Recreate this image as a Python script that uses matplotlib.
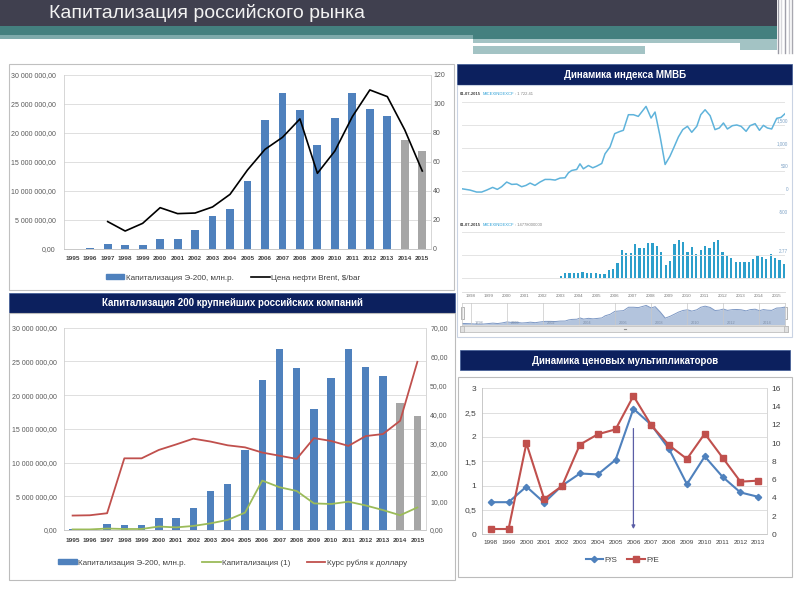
import numpy as np
import matplotlib
matplotlib.use("Agg")
import matplotlib.pyplot as plt
from matplotlib.patches import Rectangle, Patch
from matplotlib.lines import Line2D
from matplotlib.ticker import FuncFormatter
from matplotlib import font_manager

# ---------------- data ----------------
years = [1995, 1996, 1997, 1998, 1999, 2000, 2001, 2002, 2003, 2004, 2005,
         2006, 2007, 2008, 2009, 2010, 2011, 2012, 2013, 2014, 2015]
cap_e200 = [80000, 200000, 930000, 700000, 700000, 1750000, 1800000, 3280000,
            5750000, 6850000, 11800000, 22200000, 26900000, 23950000, 17900000,
            22600000, 26900000, 24150000, 22900000, 18800000, 16850000]
forecast_from = 2014
brent = [np.nan, np.nan, 18.9, 12.4, 17.7, 28.5, 24.4, 24.8, 29.0, 37.7, 54.5,
         68.7, 77.0, 89.7, 52.2, 67.6, 91.3, 109.7, 105.1, 82.1, 53.8]
cap_usd = [0.2, 0.2, 0.5, 0.35, 0.35, 1.2, 0.9, 1.4, 2.3, 3.5, 6.0, 17.1, 14.8,
           13.5, 9.2, 9.0, 9.8, 8.5, 6.9, 5.1, 7.8]
rub_usd = [5.0, 5.1, 5.8, 24.8, 24.8, 27.7, 29.6, 31.6, 30.6, 29.3, 28.6, 26.8,
           25.7, 24.6, 31.8, 30.8, 29.1, 32.5, 33.2, 37.8, 58.2]

idx_t = [1997.50, 1997.96, 1998.33, 1998.61, 1998.89, 1999.22, 1999.48, 1999.72,
         2000.00, 2000.28, 2000.56, 2000.83, 2001.07, 2001.30, 2001.57, 2001.85,
         2002.13, 2002.41, 2002.69, 2002.96, 2003.24, 2003.43, 2003.61, 2003.89,
         2004.07, 2004.26, 2004.54, 2004.78, 2005.00, 2005.28, 2005.46, 2005.74,
         2006.00, 2006.26, 2006.48, 2006.76, 2007.04, 2007.31, 2007.74, 2008.02,
         2008.24, 2008.52, 2008.80, 2009.07, 2009.30, 2009.54, 2009.78, 2010.04,
         2010.28, 2010.56, 2010.78, 2011.02, 2011.30, 2011.57, 2011.81, 2012.04,
         2012.26, 2012.54, 2012.78, 2013.02, 2013.30, 2013.52, 2013.80, 2014.04,
         2014.26, 2014.48, 2014.72, 2015.00, 2015.24, 2015.46]
idx_v = [108, 79, 36, 36, 79, 137, 94, 152, 253, 202, 209, 152, 180, 231, 180, 253,
         310, 310, 296, 339, 346, 455, 505, 527, 649, 541, 613, 563, 599, 657, 866,
         1017, 1306, 1349, 1378, 1717, 1717, 1681, 1898, 1645, 1775, 1248, 635, 815,
         1017, 1234, 1393, 1465, 1335, 1465, 1717, 1825, 1696, 1393, 1429, 1537,
         1407, 1479, 1494, 1465, 1356, 1479, 1522, 1378, 1486, 1429, 1407, 1638,
         1659, 1739]
idx_grid = [2000, 1500, 1000, 500, 0, -500]
idx_grid_labels = ["", "1,500", "1,000", "500", "0", "-500"]
idx_caption = ["01-07-2015", "MICEXINDEXCF", ": 1 722.41"]
vol_caption = ["01-07-2015", "MICEXINDEXCF", ": 14778000000"]

vol_start = 2003.0
vol = [0.28, 0.59, 0.59, 0.59, 0.67, 0.75, 0.59, 0.67, 0.59, 0.47, 0.47, 0.99,
       1.07, 1.78, 3.36, 2.97, 2.97, 4.04, 3.56, 3.56, 4.15, 4.15, 3.84, 3.17,
       1.58, 2.06, 4.04, 4.55, 4.35, 3.17, 3.68, 2.85, 3.36, 3.84, 3.56, 4.35,
       4.55, 3.17, 2.65, 2.37, 1.90, 1.90, 1.90, 1.90, 2.30, 2.77, 2.57, 2.30,
       2.85, 2.45, 2.18, 1.66]
vol_label = 2.77

mult_years = [1998, 1999, 2000, 2001, 2002, 2003, 2004, 2005, 2006, 2007, 2008,
              2009, 2010, 2011, 2012, 2013]
ps = [0.66, 0.66, 0.98, 0.65, 1.00, 1.25, 1.23, 1.53, 2.58, 2.25, 1.75, 1.03,
      1.60, 1.18, 0.86, 0.77]
pe = [0.58, 0.58, 9.97, 3.87, 5.30, 9.83, 10.96, 11.50, 15.16, 11.95, 9.75, 8.26,
      11.03, 8.40, 5.77, 5.88]
arrow_year = 2006
arrow_top, arrow_bottom = 2.23, 0.05

# ---------------- setup ----------------
names = {f.name for f in font_manager.fontManager.ttflist}
NARROW = "Liberation Sans Narrow" if "Liberation Sans Narrow" in names else "Liberation Sans"
plt.rcParams["font.family"] = ["Liberation Sans", "DejaVu Sans"]
FN = [NARROW, "Liberation Sans", "DejaVu Sans"]

W, H = 800, 600
fig = plt.figure(figsize=(8, 6), dpi=100)
bg = fig.add_axes([0, 0, 1, 1])
bg.set_xlim(0, W)
bg.set_ylim(H, 0)
bg.axis("off")
renderer = fig.canvas.get_renderer()

NAVY = "#0c205e"
BLUE = "#4f81bd"
GRAY = "#a6a6a6"
RED = "#c0504d"
GREEN = "#9bbb59"


def rect(x0, y0, x1, y1, **kw):
    bg.add_patch(Rectangle((x0, y0), x1 - x0, y1 - y0, **kw))


def pax(x0, y0, x1, y1):
    a = fig.add_axes([x0 / W, 1 - y1 / H, (x1 - x0) / W, (y1 - y0) / H])
    a.set_facecolor("none")
    return a


def seq_text(x0, y, parts, colors, weights, size=3.0):
    xc = x0
    for s, c, w in zip(parts, colors, weights):
        t = bg.text(xc, y, s, color=c, fontweight=w, fontsize=size,
                    va="center", ha="left", fontfamily=FN)
        xc += t.get_window_extent(renderer).width + 1.2


# slide header
rect(0, 0, 777, 26, fc="#40404f", lw=0)
rect(0, 26, 777, 35, fc="#44807f", lw=0)
rect(0, 35, 473, 39, fc="#7eaaab", lw=0)
rect(473, 35, 777, 39, fc="#44807f", lw=0)
rect(473, 39, 777, 43, fc="#a3c3c4", lw=0)
rect(473, 43, 740, 46, fc="white", lw=0)
rect(473, 46, 645, 54, fc="#a3c3c4", lw=0)
rect(740, 43, 777, 50, fc="#a3c3c4", lw=0)
for xv, c in [(778, "#9a9aa4"), (781, "#d8d8dc"), (785, "#a0a0aa"),
              (789, "#c8c8ce"), (792, "#a8a8b0")]:
    bg.plot([xv, xv], [0, 53], color=c, lw=1.0)
bg.text(49, 13, "Капитализация российского рынка", color="#f2f2f2",
        fontsize=14, va="center", ha="left")

# panel frames and headers
rect(9, 64, 454, 290, fc="white", ec="#c0c0c0", lw=0.8)
rect(9, 293, 455, 313, fc=NAVY, ec="#3b5894", lw=0.5)
rect(9, 313, 455, 580, fc="white", ec="#bcbcbc", lw=0.8)
rect(457, 64, 792, 85, fc=NAVY, ec="#3b5894", lw=0.5)
rect(457, 85, 792, 337, fc="white", ec="#c9d3e3", lw=0.8)
rect(460, 350, 790, 370, fc=NAVY, ec="#3b5894", lw=0.5)
rect(458, 377, 792, 577, fc="white", ec="#bcbcbc", lw=0.8)
hdr = dict(color="white", fontsize=7, fontweight="bold", ha="center", va="center")
bg.text(625, 75, "Динамика индекса ММВБ", **hdr)
bg.text(232, 303.5, "Капитализация 200 крупнейших российских компаний", **hdr)
bg.text(625, 360.5, "Динамика ценовых мультипликаторов", **hdr)


def big_fmt(v, pos):
    return f"{v:,.2f}".replace(",", " ").replace(".", ",")


x = np.arange(len(years))
bar_colors = [GRAY if y >= forecast_from else BLUE for y in years]


def style_cat_axes(ax, pad_left, pad_bottom):
    ax.set_xlim(-0.5, len(years) - 0.5)
    ax.set_ylim(0, 30e6)
    ax.set_yticks(np.arange(0, 30e6 + 1, 5e6))
    ax.yaxis.set_major_formatter(FuncFormatter(big_fmt))
    ax.set_xticks(x)
    ax.set_xticklabels([str(y) for y in years], fontfamily=FN, fontsize=4.6,
                       fontweight="bold", color="#404040")
    for lab in ax.get_yticklabels():
        lab.set_fontfamily(FN)
    ax.tick_params(axis="y", length=0, labelsize=5, colors="#595959", pad=pad_left)
    ax.tick_params(axis="x", length=0, pad=pad_bottom)
    ax.grid(axis="y", color="#d9d9d9", lw=0.6)
    ax.set_axisbelow(True)
    for s in ["top", "right"]:
        ax.spines[s].set_visible(False)
    ax.spines["left"].set_color("#d0d0d0")
    ax.spines["bottom"].set_color("#bfbfbf")
    ax.spines["left"].set_linewidth(0.6)
    ax.spines["bottom"].set_linewidth(0.6)


# ---------------- panel 1 ----------------
ax1 = pax(64, 75, 431, 249)
ax1.bar(x, cap_e200, width=0.45, color=bar_colors)
style_cat_axes(ax1, 6, 5)
ax1r = ax1.twinx()
ax1r.plot(x, brent, color="black", lw=1.2)
ax1r.set_ylim(0, 120)
ax1r.set_yticks(np.arange(0, 121, 20))
ax1r.tick_params(length=0, labelsize=5, colors="#595959", pad=1.5)
for lab in ax1r.get_yticklabels():
    lab.set_fontfamily(FN)
for s in ["top", "left", "bottom"]:
    ax1r.spines[s].set_visible(False)
ax1r.spines["right"].set_color("#d0d0d0")
ax1r.spines["right"].set_linewidth(0.6)

leg_kw = dict(loc="center", frameon=False, handletextpad=0.2,
              prop={"family": FN, "size": 5.8}, labelcolor="#404040",
              handlelength=2.3, handleheight=0.6)
fig.legend([Patch(color=BLUE), Line2D([], [], color="black", lw=1.2)],
           ["Капитализация Э-200, млн.р.", "Цена нефти Brent, $/bar"],
           bbox_to_anchor=(233 / W, 1 - 278 / H), ncol=2, columnspacing=2.2,
           **leg_kw)

# ---------------- panel 3 ----------------
ax3 = pax(64, 327.7, 426, 530)
ax3.bar(x, cap_e200, width=0.43, color=bar_colors)
style_cat_axes(ax3, 5, 5.5)
ax3r = ax3.twinx()
ax3r.plot(x, cap_usd, color=GREEN, lw=1.3)
ax3r.plot(x, rub_usd, color=RED, lw=1.3)
ax3r.set_ylim(0, 70)
ax3r.set_yticks(np.arange(0, 71, 10))
ax3r.yaxis.set_major_formatter(FuncFormatter(lambda v, p: f"{v:.2f}".replace(".", ",")))
ax3r.tick_params(length=0, labelsize=5, colors="#595959", pad=3)
for lab in ax3r.get_yticklabels():
    lab.set_fontfamily(FN)
for s in ["top", "left", "bottom"]:
    ax3r.spines[s].set_visible(False)
ax3r.spines["right"].set_color("#d0d0d0")
ax3r.spines["right"].set_linewidth(0.6)
fig.legend([Patch(color=BLUE), Line2D([], [], color=GREEN, lw=1.3),
            Line2D([], [], color=RED, lw=1.3)],
           ["Капитализация Э-200, млн.р.", "Капитализация (1)", "Курс рубля к доллару"],
           bbox_to_anchor=(232.5 / W, 1 - 563 / H), ncol=3, columnspacing=2.0,
           **leg_kw)

# ---------------- panel 2 ----------------
XL = (1997.5, 2015.46)
cap_colors = ["#404040", "#2a9fd6", "#808080"]
cap_weights = ["bold", "normal", "normal"]
seq_text(460, 94.3, idx_caption, cap_colors, cap_weights)
seq_text(460, 225, vol_caption, cap_colors, cap_weights)

axL = pax(461.7, 101.7, 785, 216.7)
for g, lab in zip(idx_grid, idx_grid_labels):
    axL.axhline(g, color="#e4e4e4", lw=0.7)
    if lab:
        axL.text(1.009, g + 30, lab, transform=axL.get_yaxis_transform(),
                 ha="right", va="bottom", fontsize=3.3, color="#7fa3c6")
axL.plot(idx_t, idx_v, color="#5fb3db", lw=1.1)
axL.set_xlim(*XL)
axL.set_ylim(-500, 2000)
axL.axis("off")

axV = pax(461.7, 231.7, 785, 291.7)
vx = vol_start + np.arange(len(vol)) * 0.243
for g in [vol_label * 2, vol_label, 0]:
    axV.axhline(g, color="#e4e4e4", lw=0.7)
axV.bar(vx, vol, width=0.13, color="#2d9fcb", bottom=0)
axV.text(1.009, vol_label + 0.15, f"{vol_label:.2f}", transform=axV.get_yaxis_transform(),
         ha="right", va="bottom", fontsize=3.3, color="#7fa3c6")
axV.set_xlim(*XL)
axV.set_ylim(-vol_label * 0.57, vol_label * 2)
axV.set_xticks(np.arange(1998, 2016))
axV.set_xticklabels([str(y) for y in range(1998, 2016)], fontsize=3.2, color="#777777")
axV.tick_params(axis="x", length=0, pad=1.8)
axV.set_yticks([])
for s in ["top", "left", "right"]:
    axV.spines[s].set_visible(False)
axV.spines["bottom"].set_color("#e0e0e0")
axV.spines["bottom"].set_linewidth(0.7)

axN = pax(462, 303, 785, 324.5)
axN.fill_between(idx_t, idx_v, 0, color="#b3c4dd", lw=0)
axN.plot(idx_t, idx_v, color="#7d98c4", lw=0.7)
for yv in range(1998, 2015, 2):
    axN.axvline(yv, color="#c8c8c8", lw=0.5)
    axN.text(yv + 0.2, 150, str(yv), fontsize=2.8, color="#8090a8", va="center")
axN.set_xlim(*XL)
axN.set_ylim(0, 2140)
for s in axN.spines.values():
    s.set_color("#c8c8c8")
    s.set_linewidth(0.5)
axN.set_xticks([])
axN.set_yticks([])
rect(460.5, 307, 463.5, 319, fc="#f4f4f4", ec="#9a9a9a", lw=0.5)
rect(783.5, 307, 786.5, 319, fc="#f4f4f4", ec="#9a9a9a", lw=0.5)
rect(460, 325.5, 788, 332, fc="#ececec", ec="#b5b5b5", lw=0.5)
rect(460, 325.5, 464, 332, fc="#e0e0e0", ec="#b5b5b5", lw=0.5)
rect(784, 325.5, 788, 332, fc="#e0e0e0", ec="#b5b5b5", lw=0.5)
bg.plot([624, 626], [328.7, 328.7], color="#909090", lw=0.8)

# ---------------- panel 4 ----------------
ax4 = pax(481.8, 388.3, 767.2, 534.3)
mx = np.arange(len(mult_years))
ax4.plot(mx, ps, color=BLUE, lw=1.5, marker="D", ms=3.2, zorder=3)
ax4.set_xlim(-0.5, len(mult_years) - 0.5)
ax4.set_ylim(0, 3)
ax4.set_yticks(np.arange(0, 3.01, 0.5))
ax4.yaxis.set_major_formatter(FuncFormatter(lambda v, p: f"{v:g}".replace(".", ",")))
ax4.set_xticks(mx)
ax4.set_xticklabels([str(y) for y in mult_years], fontsize=4.6, color="#404040",
                    fontfamily=FN)
ax4.tick_params(axis="y", length=0, labelsize=6, colors="#404040", pad=4)
ax4.tick_params(axis="x", length=0, pad=4)
ax4.grid(axis="y", color="#d9d9d9", lw=0.6)
ax4.set_axisbelow(True)
for s in ["top", "right"]:
    ax4.spines[s].set_visible(False)
ax4.spines["left"].set_color("#bfbfbf")
ax4.spines["bottom"].set_color("#bfbfbf")
ax4.spines["left"].set_linewidth(0.6)
ax4.spines["bottom"].set_linewidth(0.6)
ai = mult_years.index(arrow_year)
ax4.annotate("", xy=(ai, arrow_bottom), xytext=(ai, arrow_top),
             arrowprops=dict(arrowstyle="-|>", color="#5b5ea6", lw=0.9,
                             mutation_scale=5), zorder=4)
ax4r = ax4.twinx()
ax4r.plot(mx, pe, color=RED, lw=1.5, marker="s", ms=4, zorder=3)
ax4r.set_ylim(0, 16)
ax4r.set_yticks(np.arange(0, 17, 2))
ax4r.tick_params(length=0, labelsize=6, colors="#404040", pad=3)
for s in ["top", "left", "bottom"]:
    ax4r.spines[s].set_visible(False)
ax4r.spines["right"].set_color("#d0d0d0")
ax4r.spines["right"].set_linewidth(0.6)
fig.legend([Line2D([], [], color=BLUE, lw=1.5, marker="D", ms=3.2),
            Line2D([], [], color=RED, lw=1.5, marker="s", ms=4)],
           ["P/S", "P/E"], bbox_to_anchor=(622.5 / W, 1 - 560 / H), ncol=2,
           columnspacing=1.2, loc="center", frameon=False, handletextpad=0.2,
           prop={"family": FN, "size": 5.8}, labelcolor="#404040", handlelength=2.2)

fig.savefig("out.png", dpi=100)
